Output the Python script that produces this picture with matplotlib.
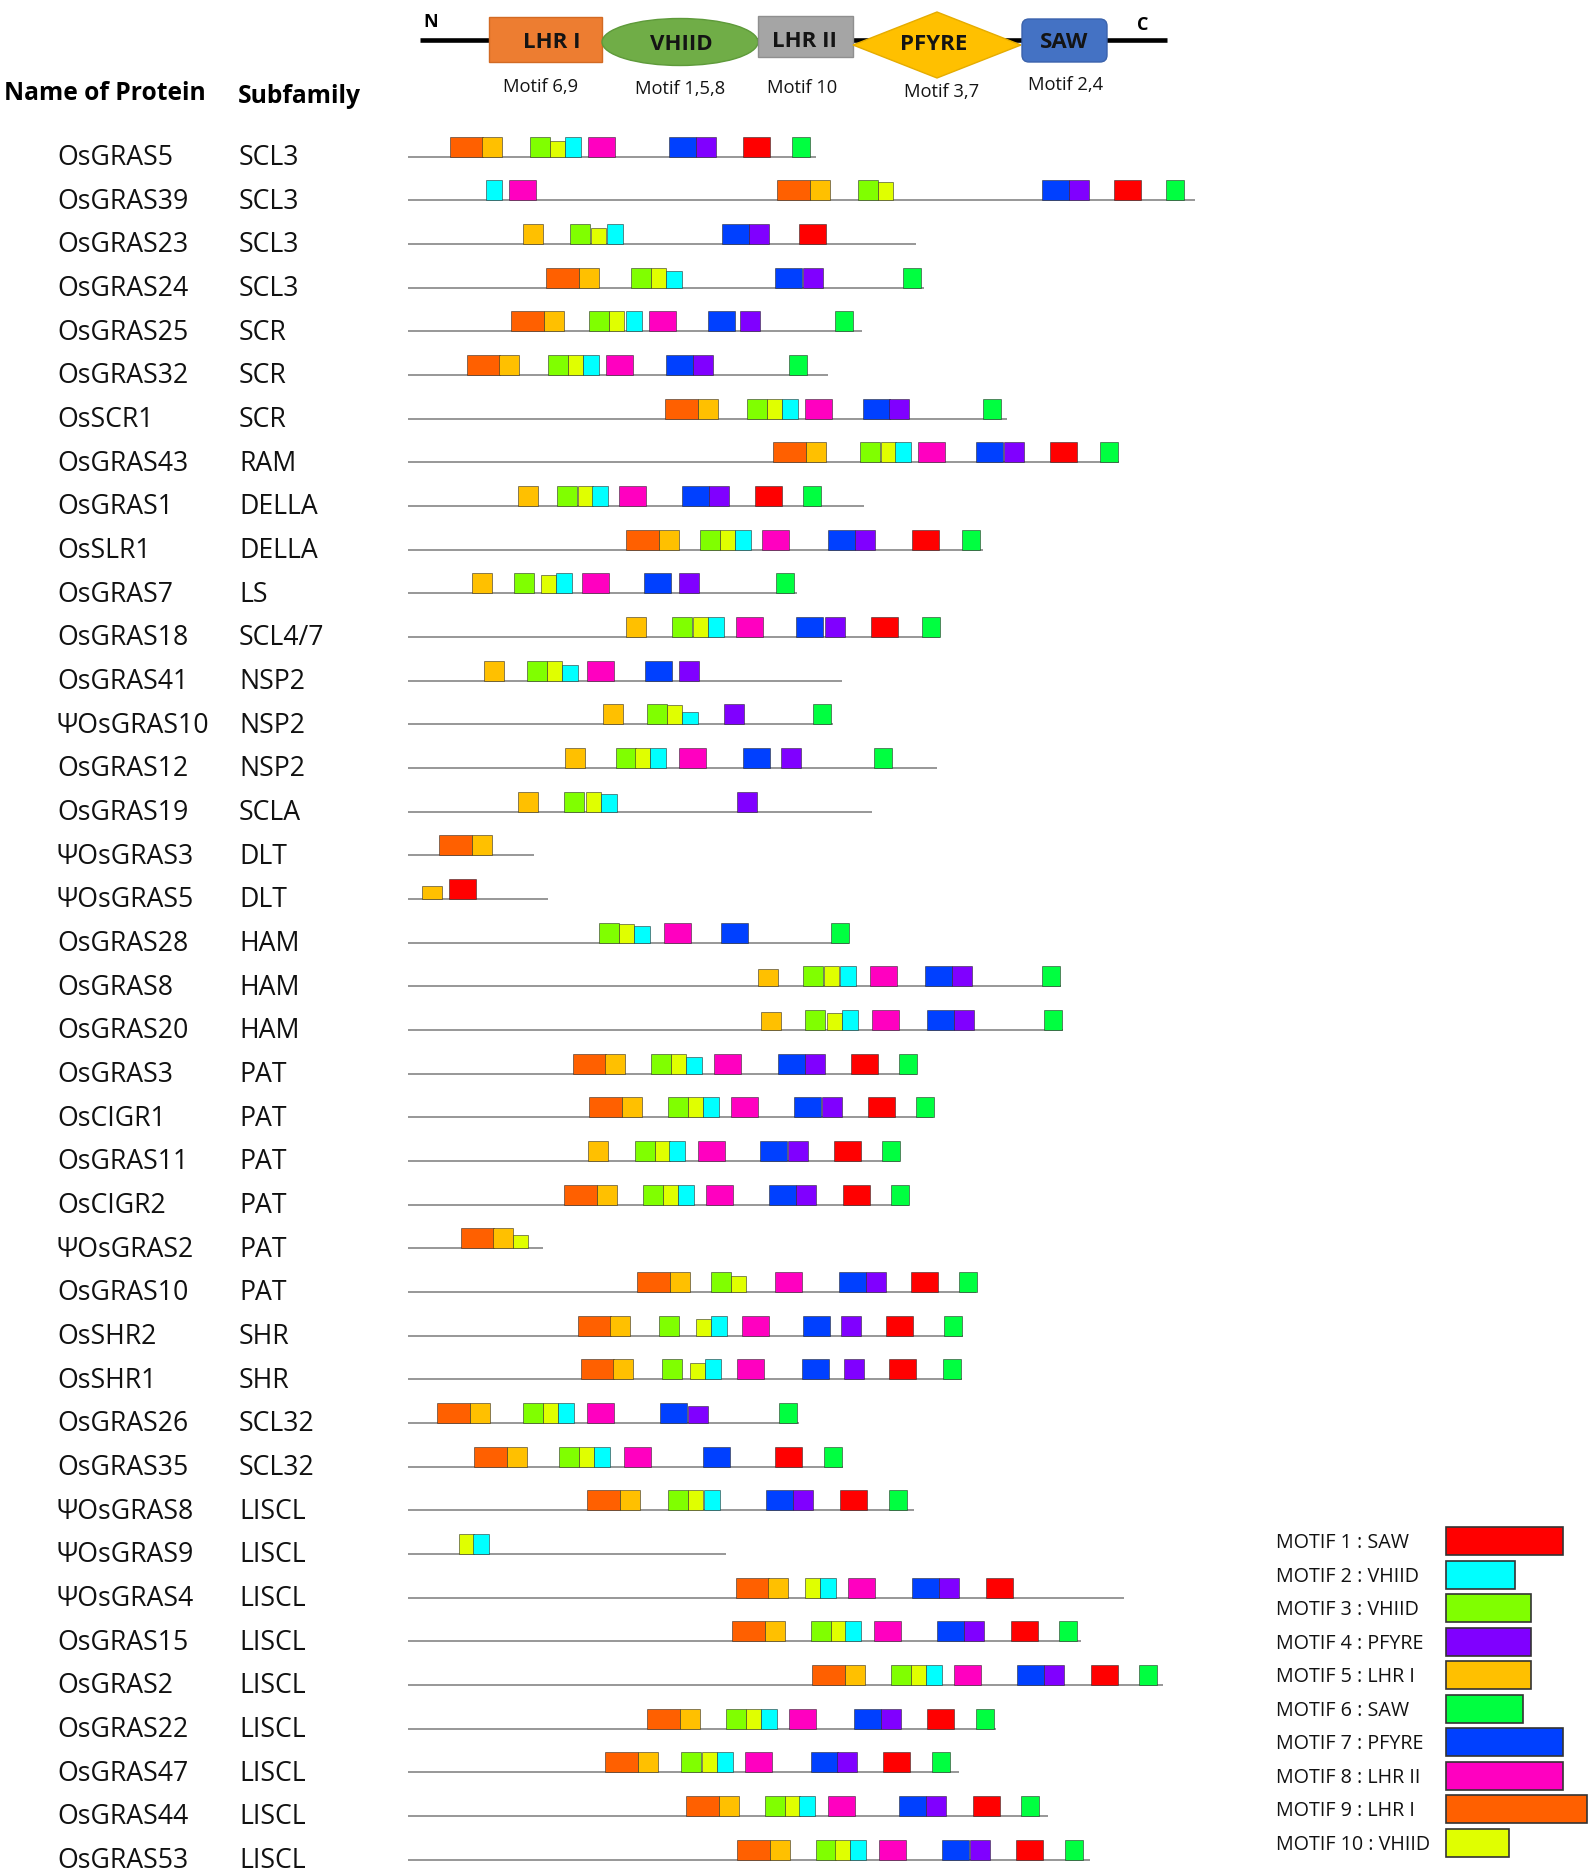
import matplotlib
matplotlib.use('Agg')
import matplotlib.pyplot as plt
from matplotlib.patches import Rectangle, Ellipse, Polygon, FancyBboxPatch

# ---------------- data ----------------
NAMES = ["OsGRAS5", "OsGRAS39", "OsGRAS23", "OsGRAS24", "OsGRAS25", "OsGRAS32", "OsSCR1",
         "OsGRAS43", "OsGRAS1", "OsSLR1", "OsGRAS7", "OsGRAS18", "OsGRAS41", "ΨOsGRAS10",
         "OsGRAS12", "OsGRAS19", "ΨOsGRAS3", "ΨOsGRAS5", "OsGRAS28", "OsGRAS8", "OsGRAS20",
         "OsGRAS3", "OsCIGR1", "OsGRAS11", "OsCIGR2", "ΨOsGRAS2", "OsGRAS10", "OsSHR2",
         "OsSHR1", "OsGRAS26", "OsGRAS35", "ΨOsGRAS8", "ΨOsGRAS9", "ΨOsGRAS4", "OsGRAS15",
         "OsGRAS2", "OsGRAS22", "OsGRAS47", "OsGRAS44", "OsGRAS53"]

SUBFAMILIES = ["SCL3", "SCL3", "SCL3", "SCL3", "SCR", "SCR", "SCR", "RAM", "DELLA", "DELLA",
               "LS", "SCL4/7", "NSP2", "NSP2", "NSP2", "SCLA", "DLT", "DLT", "HAM", "HAM", "HAM",
               "PAT", "PAT", "PAT", "PAT", "PAT", "PAT", "SHR", "SHR", "SCL32", "SCL32",
               "LISCL", "LISCL", "LISCL", "LISCL", "LISCL", "LISCL", "LISCL", "LISCL", "LISCL"]

LENGTHS = [408, 787, 508, 516, 454, 420, 599, 711, 456, 575, 389, 532, 434, 425, 529, 464,
           126, 140, 441, 653, 655, 509, 525, 492, 501, 135, 568, 555, 554, 391, 435, 506,
           318, 716, 673, 755, 588, 551, 640, 682]

# motif sites per protein: (motif number, start position, relative box height)
SITES = [
    [(9, 42, 1), (5, 74, 1), (3, 122, 1), (10, 142, .8), (2, 157, 1), (8, 180, 1), (7, 261, 1), (4, 288, 1), (1, 335, 1), (6, 384, 1)],
    [(2, 78, 1), (8, 101, 1), (9, 369, 1), (5, 402, 1), (3, 450, 1), (10, 470, .9), (7, 634, 1), (4, 661, 1), (1, 706, 1), (6, 758, 1)],
    [(5, 115, 1), (3, 162, 1), (10, 183, .8), (2, 199, 1), (7, 314, 1), (4, 341, 1), (1, 391, 1)],
    [(9, 138, 1), (5, 171, 1), (3, 223, 1), (10, 243, 1), (2, 258, .84), (7, 367, 1), (4, 395, 1), (6, 495, 1)],
    [(9, 103, 1), (5, 136, 1), (3, 181, 1), (10, 201, 1), (2, 218, 1), (8, 241, 1), (7, 300, 1), (4, 332, 1), (6, 427, 1)],
    [(9, 59, 1), (5, 91, 1), (3, 140, 1), (10, 160, 1), (2, 175, 1), (8, 198, 1), (7, 258, 1), (4, 285, 1), (6, 381, 1)],
    [(9, 257, 1), (5, 290, 1), (3, 339, 1), (10, 359, 1), (2, 374, 1), (8, 397, 1), (7, 455, 1), (4, 481, 1), (6, 575, 1)],
    [(9, 365, 1), (5, 398, 1), (3, 452, 1), (10, 473, 1), (2, 487, 1), (8, 510, 1), (7, 568, 1), (4, 596, 1), (1, 642, 1), (6, 692, 1)],
    [(5, 110, 1), (3, 149, 1), (10, 170, 1), (2, 184, 1), (8, 211, 1), (7, 274, 1), (4, 301, 1), (1, 347, 1), (6, 395, 1)],
    [(9, 218, 1), (5, 251, 1), (3, 292, 1), (10, 312, 1), (2, 327, 1), (8, 354, 1), (7, 420, 1), (4, 447, 1), (1, 504, 1), (6, 554, 1)],
    [(5, 64, 1), (3, 106, 1), (10, 133, .93), (2, 148, 1), (8, 174, 1), (7, 236, 1), (4, 271, 1), (6, 368, 1)],
    [(5, 218, 1), (3, 264, 1), (10, 285, 1), (2, 300, 1), (8, 328, 1), (7, 388, 1), (4, 417, 1), (1, 463, 1), (6, 514, 1)],
    [(5, 76, 1), (3, 119, 1), (10, 139, 1), (2, 154, .78), (8, 179, 1), (7, 237, 1), (4, 271, 1)],
    [(5, 195, 1), (3, 239, 1), (10, 259, .97), (2, 274, .6), (4, 316, 1), (6, 405, 1)],
    [(5, 157, 1), (3, 208, 1), (10, 227, 1), (2, 242, 1), (8, 271, 1), (7, 335, 1), (4, 373, 1), (6, 466, 1)],
    [(5, 110, 1), (3, 156, 1), (10, 178, 1), (2, 193, .87), (4, 329, 1)],
    [(9, 31, 1), (5, 64, 1)],
    [(5, 14, .63), (1, 41, 1)],
    [(3, 191, 1), (10, 211, .92), (2, 226, .83), (8, 256, 1), (7, 313, 1), (6, 423, 1)],
    [(5, 350, .87), (3, 395, 1), (10, 416, 1), (2, 432, 1), (8, 462, 1), (7, 517, 1), (4, 544, 1), (6, 634, 1)],
    [(5, 353, .92), (3, 397, 1), (10, 419, .87), (2, 434, 1), (8, 464, 1), (7, 519, 1), (4, 546, 1), (6, 636, 1)],
    [(9, 165, 1), (5, 197, 1), (3, 243, 1), (10, 263, 1), (2, 278, .82), (8, 306, 1), (7, 370, 1), (4, 397, 1), (1, 443, 1), (6, 491, 1)],
    [(9, 181, 1), (5, 214, 1), (3, 260, 1), (10, 280, 1), (2, 295, 1), (8, 323, 1), (7, 386, 1), (4, 414, 1), (1, 460, 1), (6, 508, 1)],
    [(5, 180, 1), (3, 227, 1), (10, 247, 1), (2, 261, 1), (8, 290, 1), (7, 352, 1), (4, 380, 1), (1, 426, 1), (6, 474, 1)],
    [(9, 156, 1), (5, 189, 1), (3, 235, 1), (10, 255, 1), (2, 270, 1), (8, 298, 1), (7, 361, 1), (4, 388, 1), (1, 435, 1), (6, 483, 1)],
    [(9, 53, 1), (5, 85, 1), (10, 105, .67)],
    [(9, 229, 1), (5, 262, 1), (3, 303, 1), (10, 323, .83), (8, 367, 1), (7, 431, 1), (4, 458, 1), (1, 503, 1), (6, 551, 1)],
    [(9, 170, 1), (5, 202, 1), (3, 251, 1), (10, 288, .83), (2, 303, 1), (8, 334, 1), (7, 395, 1), (4, 433, 1), (1, 478, 1), (6, 536, 1)],
    [(9, 173, 1), (5, 205, 1), (3, 254, 1), (10, 282, .83), (2, 297, 1), (8, 329, 1), (7, 394, 1), (4, 436, 1), (1, 481, 1), (6, 535, 1)],
    [(9, 29, 1), (5, 62, 1), (3, 115, 1), (10, 135, 1), (2, 150, 1), (8, 179, 1), (7, 252, 1), (4, 280, .85), (6, 371, 1)],
    [(9, 66, 1), (5, 99, 1), (3, 151, 1), (10, 171, 1), (2, 186, 1), (8, 216, 1), (7, 295, 1), (1, 367, 1), (6, 416, 1)],
    [(9, 179, 1), (5, 212, 1), (3, 260, 1), (10, 280, 1), (2, 296, 1), (7, 358, 1), (4, 385, 1), (1, 432, 1), (6, 481, 1)],
    [(10, 51, 1), (2, 65, 1)],
    [(9, 328, 1), (5, 360, 1), (10, 397, 1), (2, 412, 1), (8, 440, 1), (7, 504, 1), (4, 531, 1), (1, 578, 1)],
    [(9, 324, 1), (5, 357, 1), (3, 403, 1), (10, 423, 1), (2, 437, 1), (8, 466, 1), (7, 529, 1), (4, 556, 1), (1, 603, 1), (6, 651, 1)],
    [(9, 404, 1), (5, 437, 1), (3, 483, 1), (10, 503, 1), (2, 518, 1), (8, 546, 1), (7, 609, 1), (4, 636, 1), (1, 683, 1), (6, 731, 1)],
    [(9, 239, 1), (5, 272, 1), (3, 318, 1), (10, 338, 1), (2, 353, 1), (8, 381, 1), (7, 446, 1), (4, 473, 1), (1, 519, 1), (6, 568, 1)],
    [(9, 197, 1), (5, 230, 1), (3, 273, 1), (10, 294, 1), (2, 309, 1), (8, 337, 1), (7, 403, 1), (4, 429, 1), (1, 475, 1), (6, 524, 1)],
    [(9, 278, 1), (5, 311, 1), (3, 357, 1), (10, 377, 1), (2, 391, 1), (8, 420, 1), (7, 491, 1), (4, 518, 1), (1, 565, 1), (6, 613, 1)],
    [(9, 329, 1), (5, 362, 1), (3, 408, 1), (10, 427, 1), (2, 442, 1), (8, 471, 1), (7, 534, 1), (4, 562, 1), (1, 608, 1), (6, 657, 1)],
]

MOTIF_WIDTHS = [27, 16, 19.7, 19.7, 19.7, 17.8, 27, 27, 32.5, 14.5]
MOTIF_COLORS = ["#FF0000", "#00FFFF", "#80FF00", "#8000FF", "#FFC000",
                "#00FF40", "#0040FF", "#FF00C0", "#FF6000", "#E0FF00"]
MOTIF_LABELS = ["MOTIF 1 : SAW", "MOTIF 2 : VHIID", "MOTIF 3 : VHIID", "MOTIF 4 : PFYRE",
                "MOTIF 5 : LHR I", "MOTIF 6 : SAW", "MOTIF 7 : PFYRE", "MOTIF 8 : LHR II",
                "MOTIF 9 : LHR I", "MOTIF 10 : VHIID"]

DOMAINS = ["LHR I", "VHIID", "LHR II", "PFYRE", "SAW"]
DOMAIN_MOTIFS = ["Motif 6,9", "Motif 1,5,8", "Motif 10", "Motif 3,7", "Motif 2,4"]

# ---------------- layout ----------------
W, H, DPI = 1595, 1871, 100
SEQ_X0 = 408
ROW_Y0 = 156.7
ROW_STEP = 43.67
BOX_H = 20
FONT = 'Open Sans'

fig = plt.figure(figsize=(W / DPI, H / DPI), dpi=DPI)
ov = fig.add_axes([0, 0, 1, 1])
ov.set_xlim(0, W)
ov.set_ylim(H, 0)
ov.axis('off')

mx = fig.add_axes([SEQ_X0 / W, 0, (W - SEQ_X0) / W, 1])
mx.set_xlim(0, W - SEQ_X0)
mx.set_ylim((H - ROW_Y0) / ROW_STEP, -ROW_Y0 / ROW_STEP)
mx.axis('off')
bh = BOX_H / ROW_STEP

for i, (length, sites) in enumerate(zip(LENGTHS, SITES)):
    mx.plot([0, length], [i, i], color='#858585', lw=1.2, zorder=1, solid_capstyle='butt')
    for m, start, rel in sites:
        h = bh * rel
        mx.bar(start, h, width=MOTIF_WIDTHS[m - 1], bottom=i - h, align='edge',
               color=MOTIF_COLORS[m - 1], edgecolor=(0.15, 0.15, 0.15, 0.55),
               linewidth=0.7, zorder=2)

# labels
for i, (name, sub) in enumerate(zip(NAMES, SUBFAMILIES)):
    y = ROW_Y0 + i * ROW_STEP + 8.3
    ov.text(57, y, name, fontsize=19.2, family=FONT, va='baseline', ha='left', color='#111111')
    ov.text(239, y, sub, fontsize=19.2, family=FONT, va='baseline', ha='left', color='#111111')

ov.text(4, 100, "Name of Protein", fontsize=17.7, family=FONT, weight='bold', va='baseline')
ov.text(238, 102.5, "Subfamily", fontsize=17.7, family=FONT, weight='bold', va='baseline')

# ---------------- domain header ----------------
ov.plot([420, 1167], [40, 40], color='black', lw=3.3, solid_capstyle='butt', zorder=1)
ov.add_patch(Rectangle((489, 17), 113, 45, fc='#ED7D31', ec='#D26A23', lw=1, zorder=2))
ov.add_patch(Ellipse((680, 42), 156, 47, fc='#70AD47', ec='#5E9A3A', lw=1, zorder=2))
ov.add_patch(Rectangle((758, 16), 95, 41, fc='#A5A5A5', ec='#8F8F8F', lw=1, zorder=2))
ov.add_patch(Polygon([(853, 45), (937, 12), (1021, 45), (937, 78)], closed=True,
                     fc='#FFC000', ec='#E5AC00', lw=1, zorder=2))
ov.add_patch(FancyBboxPatch((1022, 19), 85, 43, boxstyle='round,pad=0,rounding_size=7',
                            fc='#4472C4', ec='#3A62AC', lw=1, zorder=2))
dom_x = [552, 681, 804, 934, 1064]
dom_base = [48, 50, 47, 50, 48]
for lab, x, yb in zip(DOMAINS, dom_x, dom_base):
    ov.text(x, yb, lab, fontsize=16, family=FONT, weight='bold', ha='center', va='baseline',
            color='#141414', zorder=3)
mot_x = [541, 680, 802, 942, 1066]
mot_base = [92, 94, 93, 97, 90]
for lab, x, yb in zip(DOMAIN_MOTIFS, mot_x, mot_base):
    ov.text(x, yb, lab, fontsize=13.2, family=FONT, ha='center', va='baseline', color='#141414')
ov.text(423, 27, "N", fontsize=13, family=FONT, weight='bold', va='baseline')
ov.text(1137, 30, "C", fontsize=13, family=FONT, weight='bold', va='baseline')

# ---------------- legend ----------------
LEG_Y0, LEG_STEP = 1541, 33.5
for k, (lab, col, w) in enumerate(zip(MOTIF_LABELS, MOTIF_COLORS, MOTIF_WIDTHS)):
    y = LEG_Y0 + k * LEG_STEP
    ov.text(1276, y + 7.1, lab, fontsize=14.2, family=FONT, va='baseline', color='#111111')
    ov.add_patch(Rectangle((1446, y - 14), w * 4.33, 28, fc=col, ec='#333333', lw=1.2))

fig.savefig('out.png', dpi=DPI)
